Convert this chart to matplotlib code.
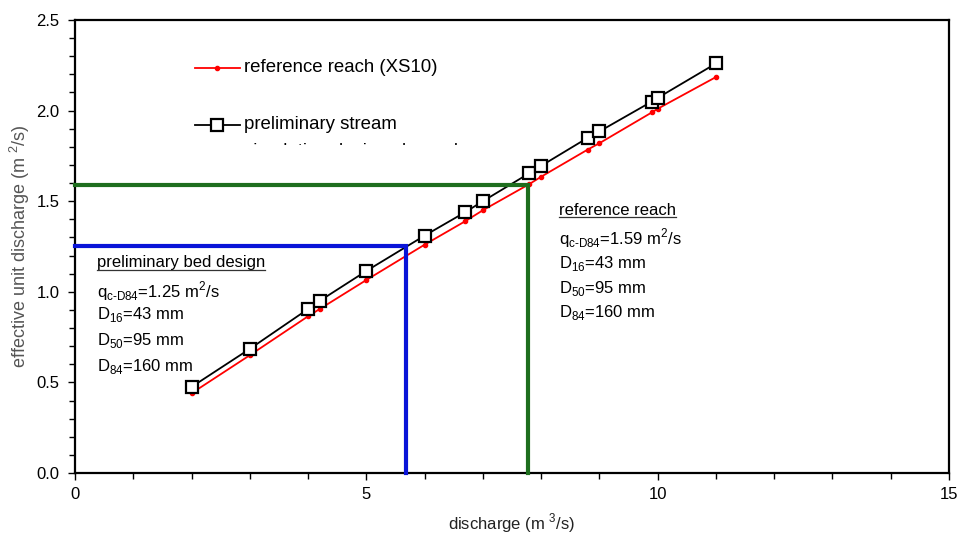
import matplotlib
matplotlib.use("Agg")
import matplotlib.pyplot as plt
from matplotlib.ticker import MultipleLocator
from matplotlib.transforms import Bbox

plt.rcParams['font.family'] = ['Liberation Sans', 'DejaVu Sans']
plt.rcParams['mathtext.fontset'] = 'custom'
plt.rcParams['mathtext.rm'] = 'Liberation Sans'

# data
discharge = [2, 3, 4, 4.2, 5, 6, 6.7, 7, 7.8, 8, 8.8, 9, 9.9, 10, 11]
ref_reach = [0.44, 0.65, 0.865, 0.905, 1.065, 1.26, 1.39, 1.45, 1.595, 1.635, 1.785, 1.82, 1.99, 2.01, 2.185]
prelim = [0.475, 0.685, 0.905, 0.95, 1.115, 1.31, 1.44, 1.50, 1.655, 1.695, 1.85, 1.885, 2.05, 2.07, 2.26]
prelim_q, prelim_Q = 1.25, 5.68
ref_q, ref_Q = 1.59, 7.78
legend_labels = ["reference reach (XS10)", "preliminary stream", "simulation design channel"]
prelim_text = ["preliminary bed design", r"q$_{\mathregular{c\text{-}D84}}$=1.25 m$^{\mathregular{2}}$/s",
               r"D$_{\mathregular{16}}$=43 mm", r"D$_{\mathregular{50}}$=95 mm", r"D$_{\mathregular{84}}$=160 mm"]
ref_text = ["reference reach", r"q$_{\mathregular{c\text{-}D84}}$=1.59 m$^{\mathregular{2}}$/s",
            r"D$_{\mathregular{16}}$=43 mm", r"D$_{\mathregular{50}}$=95 mm", r"D$_{\mathregular{84}}$=160 mm"]

fig = plt.figure(figsize=(9.58, 5.38), dpi=100)
ax = fig.add_axes([75/958, 65/538, 874/958, 453/538])
ax.set_xlim(0, 15)
ax.set_ylim(0, 2.5)

ax.plot(discharge, ref_reach, color='red', lw=1.3, marker='o', ms=3, zorder=3)
ax.plot(discharge, prelim, color='black', lw=1.3, marker='s', ms=8, mfc='white', mec='black', mew=1.6, zorder=4)

ax.plot([0, prelim_Q, prelim_Q], [prelim_q, prelim_q, 0], color='#0a14d8', lw=3, zorder=5, clip_on=False, solid_joinstyle='miter')
ax.plot([0, ref_Q, ref_Q], [ref_q, ref_q, 0], color='#1e6e1e', lw=3, zorder=5, clip_on=False, solid_joinstyle='miter')

for s in ax.spines.values():
    s.set_linewidth(1.6)
ax.xaxis.set_major_locator(MultipleLocator(5))
ax.xaxis.set_minor_locator(MultipleLocator(1))
ax.yaxis.set_major_locator(MultipleLocator(0.5))
ax.yaxis.set_minor_locator(MultipleLocator(0.1))
ax.yaxis.set_major_formatter(matplotlib.ticker.FormatStrFormatter('%.1f'))
ax.tick_params(which='major', length=5, width=1, labelsize=12, pad=6)
ax.tick_params(which='minor', length=4, width=1)
ax.tick_params(axis='x', pad=5)

ax.set_xlabel(r"discharge (m $^{\mathregular{3}}$/s)", fontsize=12, color='#222222', labelpad=7)
ax.set_ylabel(r"effective unit discharge (m $^{\mathregular{2}}$/s)", fontsize=13, color='#555555', labelpad=3)

# legend (manual)
def px2data(px, py):
    return ax.transData.inverted().transform(fig.transFigure.transform((px/958, 1 - py/538)))

x0, y0 = px2data(195, 68)
x1, _ = px2data(240, 68)
xm, _ = px2data(217, 68)
xt, _ = px2data(244, 68)
ax.plot([x0, x1], [y0, y0], color='red', lw=1.3, zorder=3)
ax.plot([xm], [y0], 'o', color='red', ms=3)
ax.text(xt, y0, legend_labels[0], fontsize=13.4, va='center', ha='left')
_, y1 = px2data(195, 125)
ax.plot([x0, x1], [y1, y1], color='black', lw=1.3)
ax.plot([xm], [y1], 's', ms=8, mfc='white', mec='black', mew=1.6)
ax.text(xt, y1, legend_labels[1], fontsize=13.4, va='center', ha='left')
_, y2 = px2data(195, 151)
t3 = ax.text(xt, y2, legend_labels[2], fontsize=13.4, va='center', ha='left')
clip_bb = Bbox.from_extents(0, 538 - 145, 958, 538)
t3.set_clip_box(clip_bb)
t3.set_clip_on(True)

def block(lines, px, pys):
    out = []
    for line, py in zip(lines, pys):
        x, y = px2data(px, py)
        out.append(ax.text(x, y, line, fontsize=12, va='center', ha='left', zorder=6))
    return out

pt = block(prelim_text, 97, [263, 291, 315, 340, 366])
rt = block(ref_text, 559, [211, 238, 264, 289, 313])

fig.canvas.draw()
renderer = fig.canvas.get_renderer()
for t in (pt[0], rt[0]):
    bb = t.get_window_extent(renderer)
    inv = ax.transData.inverted()
    (a, b) = inv.transform((bb.x0, bb.y0 + 1))
    (c, d) = inv.transform((bb.x1, bb.y0 + 1))
    ax.plot([a, c], [b, b], color='#333333', lw=0.9, zorder=6)

fig.savefig("out.png", dpi=100)
